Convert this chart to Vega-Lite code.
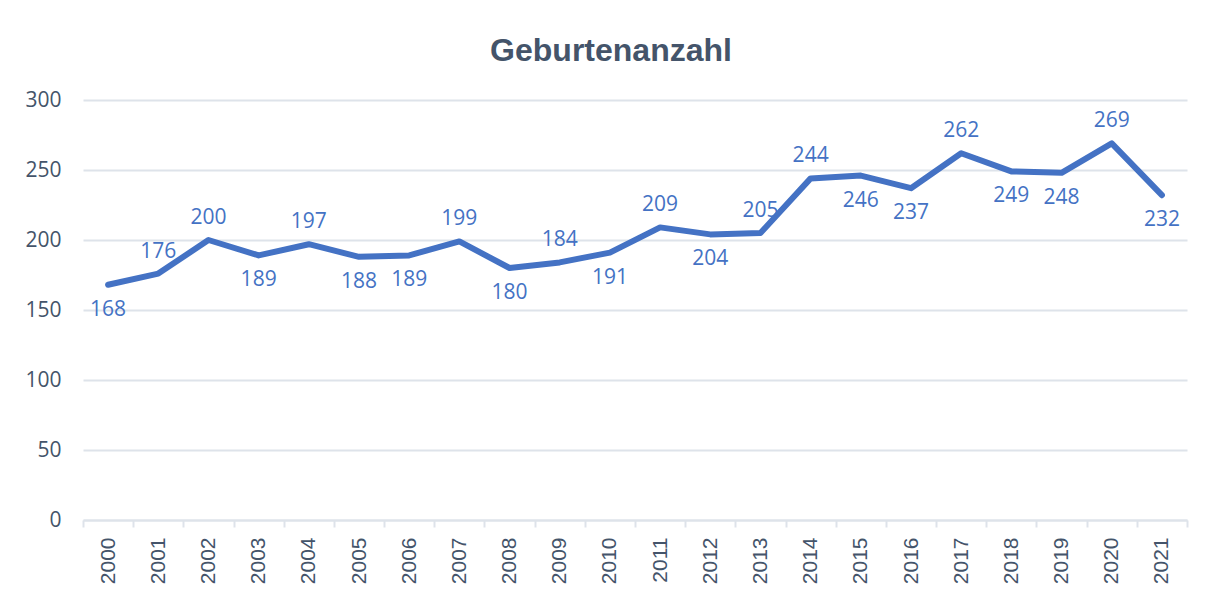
{
  "$schema": "https://vega.github.io/schema/vega-lite/v6.json",
  "width": 1104,
  "height": 420,
  "autosize": "none",
  "padding": {"left": 83, "top": 100, "right": 26, "bottom": 75},
  "background": "white",
  "title": {
    "text": "Geburtenanzahl",
    "font": "Liberation Sans",
    "fontWeight": "bold",
    "fontSize": 32,
    "color": "#44546A",
    "anchor": "middle",
    "frame": "group",
    "dx": -24,
    "offset": 21
  },
  "data": {
    "values": [
      {"year": "2000", "births": 168},
      {"year": "2001", "births": 176},
      {"year": "2002", "births": 200},
      {"year": "2003", "births": 189},
      {"year": "2004", "births": 197},
      {"year": "2005", "births": 188},
      {"year": "2006", "births": 189},
      {"year": "2007", "births": 199},
      {"year": "2008", "births": 180},
      {"year": "2009", "births": 184},
      {"year": "2010", "births": 191},
      {"year": "2011", "births": 209},
      {"year": "2012", "births": 204},
      {"year": "2013", "births": 205},
      {"year": "2014", "births": 244},
      {"year": "2015", "births": 246},
      {"year": "2016", "births": 237},
      {"year": "2017", "births": 262},
      {"year": "2018", "births": 249},
      {"year": "2019", "births": 248},
      {"year": "2020", "births": 269},
      {"year": "2021", "births": 232}
    ]
  },
  "encoding": {
    "x": {
      "field": "year",
      "type": "ordinal",
      "title": null,
      "scale": {"type": "band", "paddingInner": 0, "paddingOuter": 0},
      "axis": {
        "labelAngle": -90,
        "labelFont": "Liberation Sans",
        "labelFontSize": 21,
        "labelColor": "#44546A",
        "labelPadding": 10,
        "tickBand": "extent",
        "ticks": true,
        "tickSize": 7,
        "tickWidth": 2,
        "tickColor": "#DEE3EA",
        "domainColor": "#DEE3EA",
        "domainWidth": 2,
        "grid": false
      }
    },
    "y": {
      "field": "births",
      "type": "quantitative",
      "title": null,
      "scale": {"domain": [0, 300], "nice": false},
      "axis": {
        "values": [0, 50, 100, 150, 200, 250, 300],
        "labelFont": "Open Sans",
        "labelFontSize": 21,
        "labelColor": "#44546A",
        "labelPadding": 22,
        "ticks": false,
        "domain": false,
        "grid": true,
        "gridColor": "#DEE3EA",
        "gridWidth": 2
      }
    }
  },
  "layer": [
    {
      "mark": {"type": "line", "color": "#4472C4", "strokeWidth": 6, "strokeCap": "round", "strokeJoin": "round"}
    },
    {
      "transform": [{"filter": {"field": "year", "oneOf": ["2001", "2002", "2004", "2007", "2009", "2011", "2013", "2014", "2017", "2020"]}}],
      "mark": {"type": "text", "color": "#4472C4", "font": "Open Sans", "fontSize": 21, "baseline": "middle", "dy": -22},
      "encoding": {"text": {"field": "births", "type": "quantitative"}}
    },
    {
      "transform": [{"filter": {"field": "year", "oneOf": ["2000", "2003", "2005", "2006", "2008", "2010", "2012", "2015", "2016", "2018", "2019", "2021"]}}],
      "mark": {"type": "text", "color": "#4472C4", "font": "Open Sans", "fontSize": 21, "baseline": "middle", "dy": 25},
      "encoding": {"text": {"field": "births", "type": "quantitative"}}
    }
  ],
  "config": {"view": {"stroke": null}}
}
